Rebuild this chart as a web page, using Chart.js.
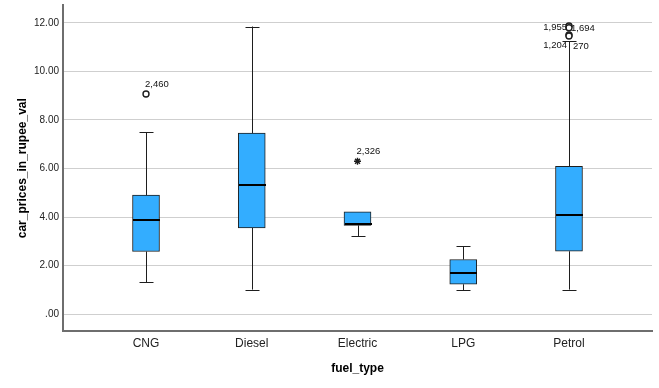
<!DOCTYPE html>
<html>
<head>
<meta charset="utf-8">
<script src="https://cdn.jsdelivr.net/npm/chart.js@4/dist/chart.umd.min.js"></script>
<style>
  html,body{margin:0;padding:0;background:#fff;}
  #wrap{width:659px;height:388px;position:relative;}
</style>
</head>
<body>
<div id="wrap"><canvas id="c"></canvas></div>
<script>
// ---- data ----
const categories = ["CNG", "Diesel", "Electric", "LPG", "Petrol"];
const whiskerLow  = [1.32, 1.01, 3.22, 0.98, 1.01];
const q1          = [2.58, 3.55, 3.66, 1.23, 2.59];
const median      = [3.87, 5.30, 3.70, 1.71, 4.10];
const q3          = [4.90, 7.46, 4.21, 2.25, 6.09];
const whiskerHigh = [7.50, 11.85, 4.21, 2.79, 11.25];

const outlierCat    = [0, 2, 4, 4, 4, 4];
const outlierVal    = [9.07, 6.30, 11.87, 11.80, 11.50, 11.46];
const outlierLabel  = ["2,460", "2,326", "1,955", "1,694", "1,204", "270"];
const outlierMarker = ["circle", "star", "circle", "circle", "circle", "circle"];

const yTicks = [0, 2, 4, 6, 8, 10, 12];
const yTickLabels = [".00", "2.00", "4.00", "6.00", "8.00", "10.00", "12.00"];

// ---- styles ----
const FONT = "'Liberation Sans', Arial, sans-serif";
const BOX_FILL = "#33adff";
const LINE = "#1e1e1e";
// label placement relative to outlier point (pixels)
const labelOffsets = [
  {dx: -1, dy: -10, align: "left"},
  {dx: -1, dy: -10, align: "left"},
  {dx: -2, dy: 1, align: "right"},
  {dx: 2, dy: 1, align: "left"},
  {dx: -2, dy: 10, align: "right"},
  {dx: 4, dy: 10, align: "left"}
];

const boxParts = {
  id: "boxParts",
  afterDatasetsDraw(chart) {
    const {ctx} = chart;
    const x = chart.scales.x, y = chart.scales.y;
    ctx.save();
    ctx.strokeStyle = LINE;
    categories.forEach((c, i) => {
      const px = Math.round(x.getPixelForValue(i)) + 0.5;
      const yLo = y.getPixelForValue(whiskerLow[i]);
      const yQ1 = y.getPixelForValue(q1[i]);
      const yQ3 = y.getPixelForValue(q3[i]);
      const yHi = y.getPixelForValue(whiskerHigh[i]);
      const yMed = y.getPixelForValue(median[i]);
      ctx.lineWidth = 1;
      ctx.beginPath();
      if (whiskerLow[i] < q1[i]) { ctx.moveTo(px, yQ1); ctx.lineTo(px, yLo); }
      if (whiskerHigh[i] > q3[i]) { ctx.moveTo(px, yQ3); ctx.lineTo(px, yHi); }
      ctx.stroke();
      ctx.beginPath();
      ctx.moveTo(px - 7, Math.round(yLo) + 0.5); ctx.lineTo(px + 7, Math.round(yLo) + 0.5);
      if (whiskerHigh[i] > q3[i]) { ctx.moveTo(px - 7, Math.round(yHi) + 0.5); ctx.lineTo(px + 7, Math.round(yHi) + 0.5); }
      ctx.stroke();
      ctx.lineWidth = 2;
      ctx.strokeStyle = "#000";
      ctx.beginPath();
      ctx.moveTo(px - 13.5, Math.round(yMed)); ctx.lineTo(px + 13.5, Math.round(yMed));
      ctx.stroke();
      ctx.strokeStyle = LINE;
    });
    // outlier labels
    ctx.fillStyle = "#111";
    ctx.font = "9.5px " + FONT;
    ctx.textBaseline = "middle";
    outlierLabel.forEach((t, k) => {
      const o = labelOffsets[k];
      const px = x.getPixelForValue(outlierCat[k]);
      const py = y.getPixelForValue(outlierVal[k]);
      ctx.textAlign = o.align;
      ctx.fillText(t, px + o.dx, py + o.dy);
    });
    ctx.restore();
  }
};

new Chart(document.getElementById("c"), {
  type: "bar",
  data: {
    datasets: [
      {
        type: "scatter",
        data: outlierCat.map((c, k) => ({x: c, y: outlierVal[k]})),
        pointStyle: outlierMarker,
        pointRadius: outlierMarker.map(m => m === "star" ? 3.5 : 3),
        pointBackgroundColor: "#fff",
        pointBorderColor: LINE,
        pointBorderWidth: 1.4,
        order: 0
      },
      {
        type: "bar",
        data: categories.map((c, i) => ({x: i, y: [q1[i], q3[i]]})),
        backgroundColor: BOX_FILL,
        borderColor: LINE,
        borderWidth: 1,
        borderSkipped: false,
        barThickness: 27,
        order: 1
      }
    ]
  },
  options: {
    responsive: true,
    maintainAspectRatio: false,
    animation: false,
    events: [],
    layout: {padding: {top: 3, right: 7, left: 0, bottom: 0}},
    plugins: {legend: {display: false}, tooltip: {enabled: false}},
    scales: {
      x: {
        type: "linear",
        offset: false,
        min: -0.785,
        max: 4.785,
        afterBuildTicks: s => { s.ticks = categories.map((c, i) => ({value: i})); },
        afterFit: s => { s.height = 57; s.paddingLeft = 0; s.paddingRight = 0; },
        ticks: {
          callback: (v) => categories[v],
          color: "#222",
          font: {family: FONT, size: 12},
          padding: 5,
          maxRotation: 0,
          autoSkip: false
        },
        grid: {display: false, drawTicks: false, offset: false},
        border: {display: true, color: "#6e6e6e", width: 2},
        title: {
          display: true,
          text: "fuel_type",
          color: "#000",
          font: {family: FONT, size: 12, weight: "bold"},
          padding: {top: 0, bottom: 12}
        }
      },
      y: {
        type: "linear",
        min: -0.695,
        max: 12.72,
        afterBuildTicks: s => { s.ticks = yTicks.map(v => ({value: v})); },
        afterFit: s => { s.width = 63; s.paddingTop = 0; s.paddingBottom = 0; },
        ticks: {
          callback: (v) => yTickLabels[yTicks.indexOf(v)],
          color: "#222",
          font: {family: FONT, size: 10},
          padding: 4
        },
        grid: {color: "#cfcfcf", lineWidth: 1, drawTicks: false, tickLength: 0},
        border: {display: true, color: "#6e6e6e", width: 2},
        title: {
          display: true,
          text: "car_prices_in_rupee_val",
          color: "#000",
          font: {family: FONT, size: 12, weight: "bold"},
          padding: {top: 15, bottom: 0}
        }
      }
    }
  },
  plugins: [boxParts]
});
</script>
</body>
</html>
